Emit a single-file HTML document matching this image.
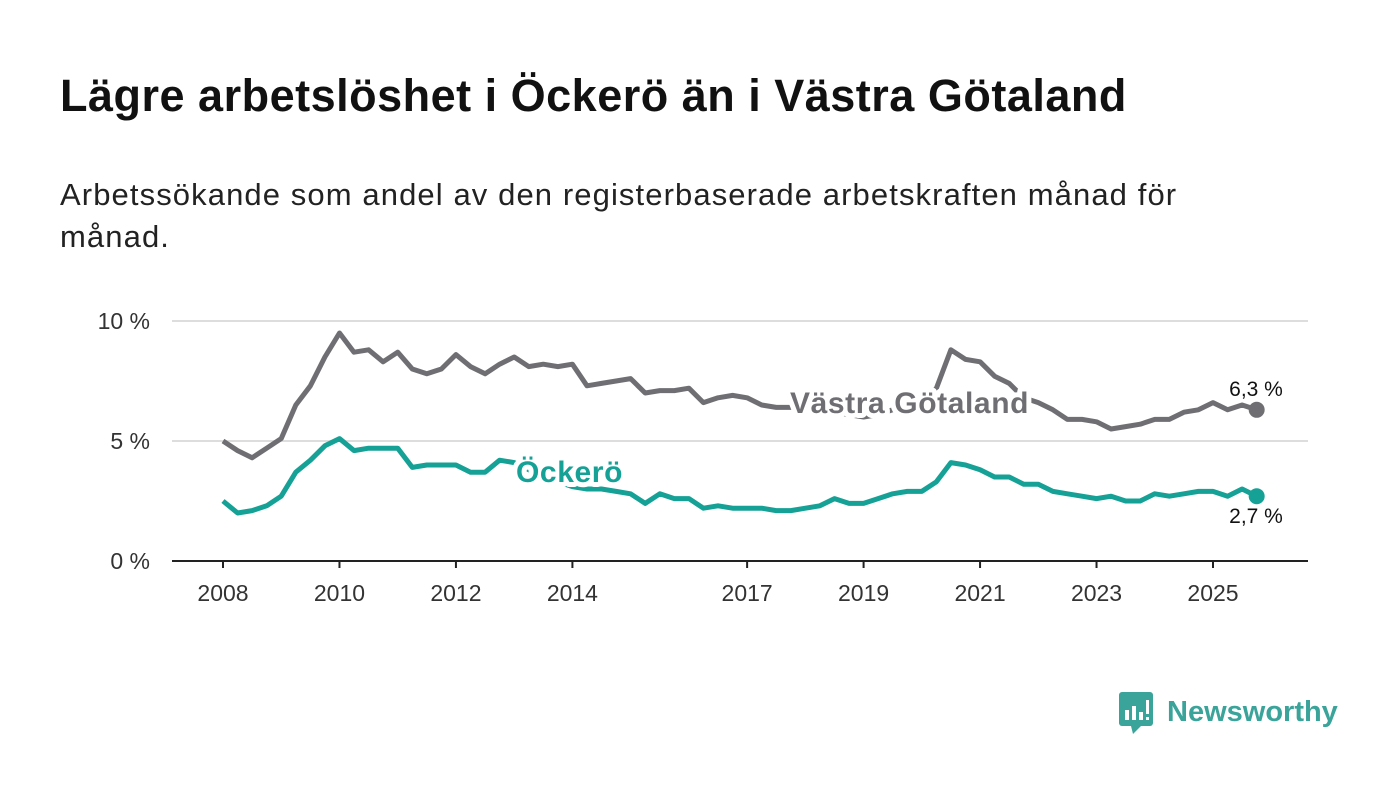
<!DOCTYPE html>
<html><head><meta charset="utf-8"><style>
body{margin:0;width:1400px;height:794px;background:#fff;font-family:"Liberation Sans",sans-serif;overflow:hidden;position:relative}
h1{position:absolute;left:60px;top:70px;margin:0;font-size:45px;letter-spacing:0.5px;font-weight:bold;color:#111}
p{position:absolute;left:60px;top:174px;margin:0;font-size:31px;letter-spacing:1.1px;line-height:42px;color:#222;width:1200px}
</style></head><body>
<h1>Lägre arbetslöshet i Öckerö än i Västra Götaland</h1>
<p>Arbetssökande som andel av den registerbaserade arbetskraften månad för månad.</p>
<svg id="c" width="1400" height="794" style="position:absolute;left:0;top:0"></svg>
<div style="position:absolute;left:1119px;top:690px;display:flex;align-items:center">
<svg width="36" height="44"><rect x="0" y="2" width="34" height="34" rx="3" fill="#3aa39a"/><path d="M12 36 L14 44 L22 36Z" fill="#3aa39a"/><rect x="6" y="20" width="4" height="10" fill="#fff"/><rect x="13" y="16" width="4" height="14" fill="#fff"/><rect x="20" y="22" width="4" height="8" fill="#fff"/><rect x="27" y="10" width="3" height="14" fill="#fff"/><rect x="27" y="27" width="3" height="3" fill="#fff"/></svg>
<span style="font-size:29px;color:#3aa39a;font-weight:bold;margin-left:12px">Newsworthy</span></div>
<script>
const startYear=2008, step=0.25;
const vgValues=[5.0,4.6,4.3,4.7,5.1,6.5,7.3,8.5,9.5,8.7,8.8,8.3,8.7,8.0,7.8,8.0,8.6,8.1,7.8,8.2,8.5,8.1,8.2,8.1,8.2,7.3,7.4,7.5,7.6,7.0,7.1,7.1,7.2,6.6,6.8,6.9,6.8,6.5,6.4,6.4,6.4,6.3,6.2,6.1,6.0,6.1,6.3,6.4,6.5,7.2,8.8,8.4,8.3,7.7,7.4,6.8,6.6,6.3,5.9,5.9,5.8,5.5,5.6,5.7,5.9,5.9,6.2,6.3,6.6,6.3,6.5,6.3];
const ockValues=[2.5,2.0,2.1,2.3,2.7,3.7,4.2,4.8,5.1,4.6,4.7,4.7,4.7,3.9,4.0,4.0,4.0,3.7,3.7,4.2,4.1,3.8,3.5,3.3,3.1,3.0,3.0,2.9,2.8,2.4,2.8,2.6,2.6,2.2,2.3,2.2,2.2,2.2,2.1,2.1,2.2,2.3,2.6,2.4,2.4,2.6,2.8,2.9,2.9,3.3,4.1,4.0,3.8,3.5,3.5,3.2,3.2,2.9,2.8,2.7,2.6,2.7,2.5,2.5,2.8,2.7,2.8,2.9,2.9,2.7,3.0,2.7];
const xTicks=[2008,2010,2012,2014,2017,2019,2021,2023,2025];
const yTicks=[0,5,10];
const X=y=>223+(y-2008)*990/17, Y=v=>561-v*24;
const svg=document.getElementById('c'),NS='http://www.w3.org/2000/svg';
function mk(t,a,txt){const e=document.createElementNS(NS,t);for(const k in a)e.setAttribute(k,a[k]);if(txt!=null)e.textContent=txt;svg.appendChild(e);return e;}
yTicks.forEach(v=>{
 const g=mk('line',{x1:172,x2:1308,y1:Y(v),y2:Y(v),stroke:v?'#ddd':'#222','stroke-width':2});
 
 
 const t=mk('text',{x:150,y:Y(v)+8,'text-anchor':'end','font-size':23,fill:'#333'},v+' %');
 
 
});
xTicks.forEach(y=>{
 const l=mk('line',{x1:X(y),x2:X(y),y1:561,y2:568,stroke:'#222','stroke-width':2});
 
 
 const t=mk('text',{x:X(y),y:601,'text-anchor':'middle','font-size':23,fill:'#333'},y);
 
 
});
function line(vals,col,name){
 const d=vals.map((v,i)=>(i?'L':'M')+X(startYear+i*step).toFixed(1)+' '+Y(v).toFixed(1)).join('');
 const p=mk('path',{d:d,fill:'none',stroke:col,'stroke-width':5,'stroke-linejoin':'round'});
 
 
 const n=vals.length-1;
 const c=mk('circle',{cx:X(startYear+n*step),cy:Y(vals[n]),r:8,fill:col});
 
 
}
line(vgValues,'#6f6f73','vastra-gotaland-line');
line(ockValues,'#16a196','ockero-line');
const lab=[[790,413,'Västra Götaland','#6f6f73','start','vg-label',30],[516,482,'Öckerö','#16a196','start','ockero-label',30],[1256,396,'6,3 %','#111','middle','vg-end-value',21],[1256,523,'2,7 %','#111','middle','ockero-end-value',21]];
lab.forEach(a=>{
 const t=mk('text',{x:a[0],y:a[1],'text-anchor':a[4],'font-size':a[6],'letter-spacing':a[6]>25?0.6:0,'font-weight':a[6]>25?'bold':'normal',fill:a[3],stroke:'#fff','stroke-width':a[6]>25?10:6,'paint-order':'stroke','stroke-linejoin':'round'},a[2]);
 
 
});
</script>
</body></html>
